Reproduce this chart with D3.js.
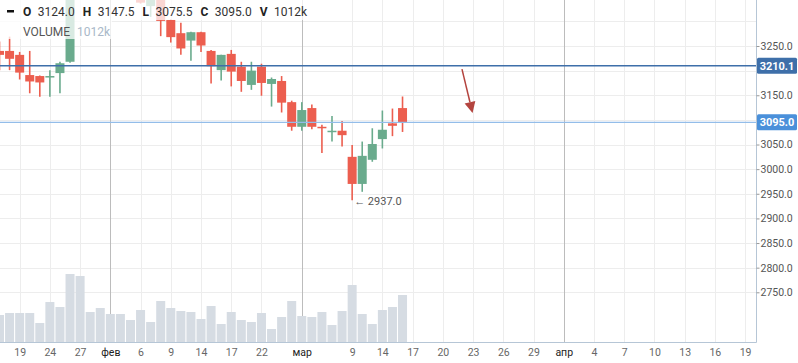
<!DOCTYPE html>
<html>
<head>
<meta charset="utf-8">
<script src="https://cdn.jsdelivr.net/npm/d3@7"></script>
<style>
body { margin: 0; background: #fff; }
text { font-family: Roboto, sans-serif; }
</style>
</head>
<body>
<div id="chart"></div>
<script>
// Candle data (index = bar slot)
const opens  = [3240, 3240, 3232, 3191, 3189, 3186, 3195, 3218, 3380, 3405, 3390, 3398, 3380, 3385, 3370, 3331, 3345, 3303, 3276, 3261, 3278, 3240, 3201, 3234, 3208, 3171, 3208, 3173, 3179, 3136, 3086, 3124, 3086, 3076, 3078, 3025, 2970, 3019, 3061, 3093, 3124];
const highs  = [3259, 3269, 3238, 3240, 3190, 3201, 3218, 3392, 3420, 3425, 3410, 3415, 3395, 3398, 3382, 3360, 3356, 3304, 3297, 3279, 3279, 3242, 3232, 3242, 3218, 3218, 3214, 3186, 3189, 3139, 3136, 3131, 3090, 3108, 3098, 3049, 3056, 3083, 3119, 3123, 3147.5];
const lows   = [3201, 3201, 3182, 3154, 3147, 3147, 3154, 3216, 3360, 3375, 3370, 3372, 3360, 3362, 3336, 3309, 3270, 3257, 3232, 3220, 3238, 3174, 3180, 3168, 3157, 3161, 3149, 3127, 3115, 3078, 3078, 3081, 3033, 3056, 3046, 2937, 2954, 3015, 3042, 3067, 3075.5];
const closes = [3232, 3224, 3196, 3178, 3176, 3189, 3215, 3380, 3405, 3390, 3398, 3380, 3385, 3370, 3338, 3352, 3301, 3268, 3245, 3278, 3251, 3209, 3232, 3198, 3179, 3200, 3175, 3183, 3135, 3086, 3120, 3086, 3083, 3078, 3069, 2970, 3027, 3051, 3080, 3088, 3095];
const volumes = [581, 624, 624, 624, 409, 861, 754, 1464, 1421, 646, 732, 603, 603, 474, 689, 431, 883, 732, 667, 646, 495, 775, 388, 646, 474, 431, 624, 280, 538, 883, 560, 538, 646, 366, 667, 1227, 603, 388, 689, 754, 1012];

// x axis ticks (bar slot index) and their labels
const tickIdx = [2, 5, 8, 11, 14, 17, 20, 23, 26, 30, 35, 38, 41, 44, 47, 50, 53, 56, 59, 62, 65, 68, 71, 74];
const tickLabels = ['19', '24', '27', 'фев', '6', '9', '14', '17', '22', 'мар', '9', '14', '17', '20', '23', '26', '29', 'апр', '4', '7', '10', '13', '16', '19'];
const monthLabels = ['фев', 'мар', 'апр'];

// price ticks
const priceTicks = [2750, 2800, 2850, 2900, 2950, 3000, 3050, 3100, 3150, 3200, 3250, 3300];
const levelPrice = 3210.1;

let svgWidth = 798, svgHeight = 363;
let plotRight = 756, plotBottom = 342;
let last = opens.length - 1;

let svg = d3.select('#chart').append('svg')
    .attr('width', svgWidth)
    .attr('height', svgHeight);

let xScale = d3.scaleLinear().domain([0, 74]).range([-0.5, 745.1]);
let yScale = d3.scaleLinear().domain([2750, 3250]).range([292.3, 46]);
let vScale = d3.scaleLinear().domain([0, volumes[last]]).range([plotBottom, 295]);

svg.append('clipPath').attr('id', 'plotClip')
    .append('rect').attr('x', 0).attr('y', 0).attr('width', plotRight).attr('height', plotBottom);

let plot = svg.append('g').attr('clip-path', 'url(#plotClip)');

// grid
plot.selectAll('line.hgrid').data(priceTicks).enter()
    .append('line')
    .attr('x1', 0).attr('x2', plotRight)
    .attr('y1', d => Math.round(yScale(d)) + 0.5).attr('y2', d => Math.round(yScale(d)) + 0.5)
    .attr('stroke', '#ededed');
plot.selectAll('line.vgrid').data(tickIdx).enter()
    .append('line')
    .attr('x1', d => Math.round(xScale(d)) + 0.5).attr('x2', d => Math.round(xScale(d)) + 0.5)
    .attr('y1', 0).attr('y2', plotBottom)
    .attr('stroke', (d, i) => monthLabels.includes(tickLabels[i]) ? '#bcbcbc' : '#ededed');

// volume bars
plot.selectAll('rect.vol').data(volumes).enter()
    .append('rect')
    .attr('x', (d, i) => xScale(i) - 4.5)
    .attr('width', 9)
    .attr('y', d => vScale(d))
    .attr('height', d => plotBottom - vScale(d))
    .attr('fill', '#d6dce3');

// candles
let up = '#6aab8d', down = '#ec5e4f';
let candles = plot.selectAll('g.candle').data(opens).enter()
    .append('g')
    .attr('transform', (d, i) => `translate(${xScale(i)},0)`);
candles.append('line')
    .attr('x1', 0).attr('x2', 0)
    .attr('y1', (d, i) => yScale(highs[i]))
    .attr('y2', (d, i) => yScale(lows[i]))
    .attr('stroke', (d, i) => closes[i] >= d ? up : down)
    .attr('stroke-width', 1.6);
candles.append('rect')
    .attr('x', -4.5).attr('width', 9)
    .attr('y', (d, i) => yScale(Math.max(d, closes[i])))
    .attr('height', (d, i) => Math.max(1.5, Math.abs(yScale(d) - yScale(closes[i]))))
    .attr('fill', (d, i) => closes[i] >= d ? up : down);

// horizontal level + last price line
plot.append('line')
    .attr('x1', 0).attr('x2', plotRight)
    .attr('y1', yScale(levelPrice)).attr('y2', yScale(levelPrice))
    .attr('stroke', '#3e6fa9').attr('stroke-width', 1.5);
plot.append('line')
    .attr('x1', 0).attr('x2', plotRight)
    .attr('y1', yScale(closes[last])).attr('y2', yScale(closes[last]))
    .attr('stroke', '#93bde9').attr('stroke-width', 1.2);

// hand drawn arrow
let arrowFrom = [xScale(45.9), yScale(3203)];
let arrowTo = [xScale(46.95), yScale(3114)];
let ang = Math.atan2(arrowTo[1] - arrowFrom[1], arrowTo[0] - arrowFrom[0]);
let headLen = 11, headW = 5.5;
let base = [arrowTo[0] - headLen * Math.cos(ang), arrowTo[1] - headLen * Math.sin(ang)];
plot.append('line')
    .attr('x1', arrowFrom[0]).attr('y1', arrowFrom[1])
    .attr('x2', base[0]).attr('y2', base[1])
    .attr('stroke', '#b4443f').attr('stroke-width', 1.5);
plot.append('path')
    .attr('d', `M${arrowTo[0]},${arrowTo[1]}L${base[0] - headW * Math.sin(ang)},${base[1] + headW * Math.cos(ang)}L${base[0] + headW * Math.sin(ang)},${base[1] - headW * Math.cos(ang)}Z`)
    .attr('fill', '#b4443f');

// low annotation
let lowIdx = d3.minIndex(lows);
plot.append('text')
    .attr('x', xScale(lowIdx) + 2)
    .attr('y', yScale(lows[lowIdx]) + 4.5)
    .style('font-size', '11px')
    .style('fill', '#555')
    .text('← ' + lows[lowIdx].toFixed(1));

// axes lines
svg.append('line')
    .attr('x1', 0).attr('x2', plotRight + 0.5)
    .attr('y1', plotBottom + 0.5).attr('y2', plotBottom + 0.5)
    .attr('stroke', '#b6c6d6');
svg.append('line')
    .attr('x1', plotRight + 0.5).attr('x2', plotRight + 0.5)
    .attr('y1', 0).attr('y2', plotBottom + 0.5)
    .attr('stroke', '#b6c6d6');

// right price axis (labels hidden where a price tag sits)
let tagPrices = [levelPrice, closes[last]];
let yAxis = d3.axisRight(yScale)
    .tickValues(priceTicks.filter(d => d <= 3250 && tagPrices.every(p => Math.abs(yScale(p) - yScale(d)) > 12)))
    .tickFormat(d3.format('.1f'))
    .tickSize(3)
    .tickPadding(1);
let yAxisG = svg.append('g').attr('transform', `translate(${plotRight + 0.5},0)`).call(yAxis);
yAxisG.select('.domain').remove();
yAxisG.selectAll('line').attr('stroke', '#999');
yAxisG.selectAll('text').style('font-size', '10.5px').style('fill', '#555').style('font-family', 'Roboto, sans-serif');

// bottom axis
let xAxis = d3.axisBottom(xScale)
    .tickValues(tickIdx)
    .tickFormat((d, i) => tickLabels[i])
    .tickSize(0)
    .tickPadding(7);
let xAxisG = svg.append('g').attr('transform', `translate(0,${plotBottom})`).call(xAxis);
xAxisG.select('.domain').remove();
xAxisG.selectAll('text')
    .style('font-size', '10.5px')
    .style('font-family', 'Roboto, sans-serif')
    .style('fill', d => monthLabels.includes(tickLabels[tickIdx.indexOf(d)]) ? '#222' : '#666');

// price tag boxes
function priceTag(price, color) {
    let y = yScale(price);
    svg.append('rect')
        .attr('x', plotRight + 1).attr('y', y - 8)
        .attr('width', 40).attr('height', 16)
        .attr('rx', 1.5)
        .attr('fill', color);
    svg.append('text')
        .attr('x', plotRight + 21).attr('y', y + 4)
        .attr('text-anchor', 'middle')
        .style('font-size', '11px').style('font-weight', 'bold')
        .style('fill', '#fff')
        .text(price.toFixed(1));
}
priceTag(levelPrice, '#3e6fa9');
priceTag(closes[last], '#4a90da');

// legend overlay
svg.append('rect').attr('x', 0).attr('y', 0).attr('width', 310).attr('height', 20).attr('fill', 'rgba(255,255,255,0.75)');
svg.append('rect').attr('x', 0).attr('y', 20).attr('width', 112).attr('height', 19).attr('fill', 'rgba(255,255,255,0.75)');
svg.append('rect').attr('x', 7).attr('y', 10).attr('width', 7).attr('height', 2.5).attr('fill', '#111');

let legendItems = [
    ['O', opens[last].toFixed(1)],
    ['H', highs[last].toFixed(1)],
    ['L', lows[last].toFixed(1)],
    ['C', closes[last].toFixed(1)],
    ['V', volumes[last] + 'k']
];
let lx = 23;
legendItems.forEach(item => {
    let k = svg.append('text').attr('x', lx).attr('y', 15.5)
        .style('font-size', '12px').style('font-weight', 'bold').style('fill', '#222')
        .text(item[0]);
    lx += k.node().getComputedTextLength() + 6.5;
    let v = svg.append('text').attr('x', lx).attr('y', 15.5)
        .style('font-size', '12px').style('fill', '#333')
        .text(item[1]);
    lx += v.node().getComputedTextLength() + 8;
});

svg.append('text').attr('x', 23).attr('y', 35.5)
    .style('font-size', '12px').style('fill', '#555')
    .text('VOLUME');
svg.append('text').attr('x', 77).attr('y', 35.5)
    .style('font-size', '12px').style('fill', '#a9b8c8')
    .text(volumes[last] + 'k');
</script>
</body>
</html>
